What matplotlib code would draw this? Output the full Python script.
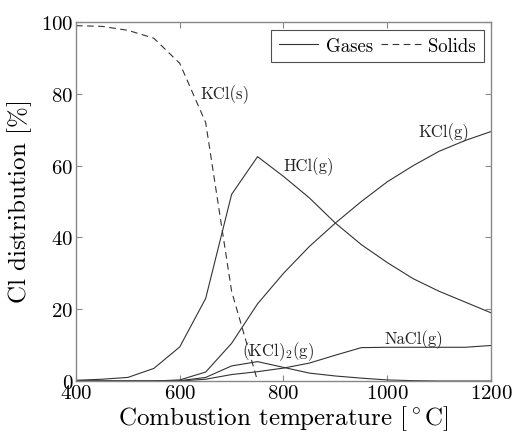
import numpy as np
import matplotlib
matplotlib.use('Agg')
import matplotlib.pyplot as plt

plt.rcParams['font.family'] = 'serif'
plt.rcParams['font.serif'] = ['cmr10', 'DejaVu Serif']
plt.rcParams['mathtext.fontset'] = 'cm'
plt.rcParams['axes.formatter.use_mathtext'] = True

# temperature grid [degC]
temp = [400, 450, 500, 550, 600, 650, 700, 750, 800, 850, 900, 950,
        1000, 1050, 1100, 1150, 1200]

# gases
hcl_g = [0.2, 0.5, 1.0, 3.5, 9.5, 23, 52, 62.5, 57, 51, 44, 38,
         33, 28.5, 25, 22, 19]
kcl_g = [0, 0, 0, 0, 0.3, 2.5, 10.5, 21.5, 30, 37.5, 44, 50,
         55.5, 60, 64, 67, 69.5]
kcl2_g = [0, 0, 0, 0, 0.1, 1.0, 4.2, 5.4, 3.8, 2.2, 1.4, 0.8,
          0.3, 0.1, 0, 0, 0]
nacl_g = [0, 0, 0, 0, 0, 0.5, 1.8, 2.6, 3.6, 5.0, 7.2, 9.3,
          9.4, 9.4, 9.4, 9.4, 9.9]

# solids
temp_s = [400, 450, 500, 550, 600, 650, 700, 750]
kcl_s = [99, 98.8, 97.7, 95.5, 88.5, 72, 25, 0]

fig = plt.figure(figsize=(5.12, 4.35), dpi=100)
ax = fig.add_axes([0.1484, 0.1218, 0.8106, 0.8252])

lc = '#333333'
ax.plot(temp, hcl_g, '-', color=lc, lw=0.8, label='Gases')
ax.plot(temp, kcl_g, '-', color=lc, lw=0.8)
ax.plot(temp, kcl2_g, '-', color=lc, lw=0.8)
ax.plot(temp, nacl_g, '-', color=lc, lw=0.8)
ax.plot(temp_s, kcl_s, '--', color=lc, lw=0.8, dashes=(6, 4), label='Solids')

tc = '#222222'
ax.text(640, 80, 'KCl(s)', fontsize=12, ha='left', va='center', color=tc)
ax.text(800, 60, 'HCl(g)', fontsize=12, ha='left', va='center', color=tc)
ax.text(1060, 69.6, 'KCl(g)', fontsize=12, ha='left', va='center', color=tc)
ax.text(995, 11.7, 'NaCl(g)', fontsize=12, ha='left', va='center', color=tc)
ax.text(720, 8.4, r'$\mathrm{(KCl)_2(g)}$', fontsize=12, ha='left', va='center', color=tc)

ax.set_xlim(400, 1200)
ax.set_ylim(0, 100)
ax.set_xticks([400, 600, 800, 1000, 1200])
ax.set_yticks([0, 20, 40, 60, 80, 100])
ax.tick_params(direction='in', top=True, right=True, labelsize=15, length=4,
               color='#888888', pad=2)
for s in ax.spines.values():
    s.set_color('#888888')
    s.set_linewidth(1.0)

ax.set_xlabel(r'Combustion temperature $[^\circ\mathrm{C}]$', fontsize=18, labelpad=1)
ax.set_ylabel(r'Cl distribution $[\%]$', fontsize=18, labelpad=5)

leg = ax.legend(loc='upper right', ncol=2, fontsize=13.5, frameon=True, fancybox=False,
                handlelength=2.1, columnspacing=0.45, borderpad=0.4, handletextpad=0.4,
                borderaxespad=0.4)
leg.get_frame().set_edgecolor('#222222')
leg.get_frame().set_linewidth(0.8)

fig.savefig('out.png', dpi=100)
